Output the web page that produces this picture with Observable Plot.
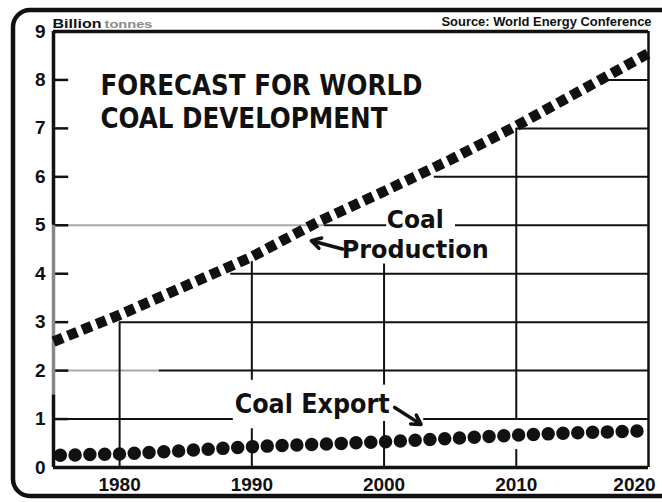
<!DOCTYPE html>
<html><head><meta charset="utf-8">
<script src="https://cdn.jsdelivr.net/npm/d3@7"></script>
<script src="https://cdn.jsdelivr.net/npm/@observablehq/plot@0.6"></script>
<style>html,body{margin:0;padding:0;background:#fff;} svg{display:block}</style>
</head><body><div id="chart"></div>
<script>
// ---- data ----
const years = [1975, 1980, 1985, 1990, 1995, 2000, 2005, 2010, 2015, 2020];
const coalProduction = [2.6, 3.15, 3.75, 4.35, 5.07, 5.7, 6.35, 7.05, 7.8, 8.55];
const coalExport = [0.25, 0.28, 0.35, 0.43, 0.48, 0.53, 0.6, 0.67, 0.72, 0.76];
const yTicks = [0, 1, 2, 3, 4, 5, 6, 7, 8, 9];
const xTicks = [1980, 1990, 2000, 2010, 2020];
const titleLines = ["FORECAST FOR WORLD", "COAL DEVELOPMENT"];
const unitLabel = "Billion";
const unitSmudge = "tonnes";
const sourceLabel = "Source: World Energy Conference";
const productionLabel = ["Coal", "Production"];
const exportLabel = "Coal Export";
// staircase grid segments: [value, fromYear, toYear, tone]
const hGrid = [
  [1, 1975, 1988.6, "k"], [1, 2003.0, 2020, "k"],
  [2, 1975, 1983, "g"], [2, 1983, 2020, "k"],
  [3, 1980, 2020, "k"],
  [4, 1988.4, 2020, "k"],
  [5, 1975, 1995.5, "g"], [5, 1995.5, 2000.2, "k"], [5, 2005.4, 2020, "k"],
  [6, 2003.8, 2020, "k"],
  [7, 2010, 2020, "k"],
  [8, 2016.6, 2020, "k"]
];
// vertical grid segments: [year, fromValue, toValue]
const vGrid = [
  [1980, 0, 3], [1990, 0, 0.8], [1990, 1.8, 4.25],
  [2000, 0, 0.95], [2000, 1.7, 4.2], [2010, 0, 0.37], [2010, 1.0, 7.0]
];
// left axis line tones (scan): [from, to, tone]
const leftAxis = [[0, 1.5, "k"], [1.5, 5, "g"], [5, 9, "k"]];

// ---- chart ----
const ink = "#111";
const grey = "#a8a8a8";
const prod = years.map((y, i) => ({year: y, value: coalProduction[i]}));
const expo = years.map((y, i) => ({year: y, value: coalExport[i]}));
const condensed = "'Liberation Sans Narrow', 'DejaVu Sans Condensed', 'Roboto Condensed', 'Liberation Sans', Arial, sans-serif";

const plot = Plot.plot({
  width: 662, height: 502,
  marginLeft: 53, marginRight: 14, marginTop: 31, marginBottom: 35,
  x: {domain: [1975, 2020]},
  y: {domain: [0, 9]},
  style: {background: "#fff", fontFamily: "'Liberation Sans', Arial, sans-serif", fontSize: "19px", fontWeight: "bold", color: ink, overflow: "visible"},
  marks: [
    // grid staircase
    Plot.ruleY(hGrid.filter(d => d[3] === "g"), {y: d => d[0], x1: d => d[1], x2: d => d[2], stroke: grey, strokeWidth: 2}),
    Plot.ruleY(hGrid.filter(d => d[3] === "k"), {y: d => d[0], x1: d => d[1], x2: d => d[2], stroke: ink, strokeWidth: 2}),
    Plot.ruleX(vGrid, {x: d => d[0], y1: d => d[1], y2: d => d[2], stroke: ink, strokeWidth: 2}),
    // y ticks (inward)
    Plot.ruleY(yTicks.slice(1, 9), {y: d => d, x1: 1975, x2: 1976.15, stroke: ink, strokeWidth: 2.5}),
    // frame lines
    Plot.ruleX(leftAxis.filter(d => d[2] === "g"), {x: 1975, y1: d => d[0], y2: d => d[1], stroke: "#888", strokeWidth: 3.5}),
    Plot.ruleX(leftAxis.filter(d => d[2] === "k"), {x: 1975, y1: d => d[0], y2: d => d[1], stroke: ink, strokeWidth: 3.5}),
    Plot.ruleX([2020], {y1: 0, y2: 9, stroke: ink, strokeWidth: 2.5}),
    Plot.ruleY([0], {stroke: ink, strokeWidth: 3.5}),
    Plot.ruleY([9], {stroke: ink, strokeWidth: 3.5}),
    // axes
    Plot.axisY(yTicks, {tickSize: 0, tickPadding: 8, fontSize: 19, fontWeight: "bold"}),
    Plot.axisX(xTicks, {tickSize: 0, tickPadding: 10, tickFormat: d => String(d), fontSize: 19, fontWeight: "bold"}),
    // title (one multi-line text)
    Plot.text([titleLines.join("\n")], {frameAnchor: "top-left", dx: 47, dy: 41, lineAnchor: "top", lineHeight: 1.17, textAnchor: "start", fontSize: 27.5, fontWeight: "bold", fontFamily: condensed, fill: ink}),
    // series labels
    Plot.text([productionLabel.join("\n")], {x: 2002.36, y: 4.32, textAnchor: "middle", lineAnchor: "bottom", lineHeight: 1.176, fontSize: 25.5, fontWeight: "bold", fontFamily: condensed, fill: ink}),
    Plot.text([exportLabel], {x: 1988.7, y: 1.12, textAnchor: "start", lineAnchor: "bottom", fontSize: 27, fontWeight: "bold", fontFamily: condensed, fill: ink}),
    // arrows
    Plot.arrow([{x1: 1996.85, y1: 4.51, x2: 1994.5, y2: 4.68}], {x1: "x1", y1: "y1", x2: "x2", y2: "y2", stroke: ink, strokeWidth: 3.5, headLength: 9}),
    Plot.arrow([{x1: 2000.8, y1: 1.24, x2: 2002.8, y2: 0.89}], {x1: "x1", y1: "y1", x2: "x2", y2: "y2", stroke: ink, strokeWidth: 3.5, headLength: 9}),
    // series
    Plot.line(prod, {x: "year", y: "value", stroke: ink, strokeWidth: 10.5, strokeDasharray: "10,5.5", strokeLinecap: "butt", strokeLinejoin: "miter"}),
    Plot.line(expo, {x: "year", y: "value", stroke: ink, strokeWidth: 13.5, strokeDasharray: "0,14.8", strokeDashoffset: 8, strokeLinecap: "round"}),
    // header
    Plot.text([unitLabel], {frameAnchor: "top-left", dx: -1, dy: -4, lineAnchor: "bottom", textAnchor: "start", fontSize: 13, fontWeight: "bold", fill: ink}),
    Plot.text([unitSmudge], {frameAnchor: "top-left", dx: 51, dy: -4, lineAnchor: "bottom", textAnchor: "start", fontSize: 11, fontWeight: "bold", fill: "#8a8a8a"}),
    Plot.text([sourceLabel], {frameAnchor: "top-right", dx: 3, dy: -6, lineAnchor: "bottom", textAnchor: "end", fontSize: 12, fontWeight: "bold", fill: ink})
  ]
});

const svg = d3.select(plot);
// outer rounded frame of the printed chart
svg.append("rect")
  .attr("x", 13).attr("y", 10).attr("width", 720).attr("height", 486)
  .attr("rx", 17).attr("fill", "none").attr("stroke", ink).attr("stroke-width", 4.5);

// fit widths of condensed texts
const widths = new Map([
  [titleLines[0], 322], [titleLines[1], 287],
  [productionLabel[0], 57], [productionLabel[1], 147], [exportLabel, 155],
  [sourceLabel, 210], [unitLabel, 49], [unitSmudge, 48]
]);
document.getElementById("chart").appendChild(plot);
svg.selectAll("text, tspan").each(function() {
  const t = this.textContent;
  if (widths.has(t)) {
    this.setAttribute("textLength", widths.get(t));
    this.setAttribute("lengthAdjust", "spacingAndGlyphs");
  }
  if (t === "2020") this.setAttribute("dx", -14);
});
</script>
</body></html>
